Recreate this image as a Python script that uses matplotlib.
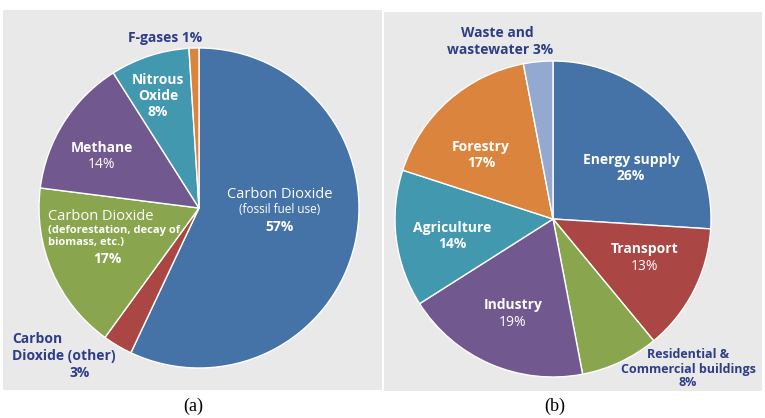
#!/usr/bin/env python3
"""Two pie charts: greenhouse gas emissions by gas (a) and by sector (b)."""

import matplotlib
matplotlib.use("Agg")
import matplotlib.pyplot as plt
from matplotlib.patches import Rectangle

W, H = 765, 418

# (a) emissions by gas, clockwise from 12 o'clock
gas_names = ["CO2 fossil", "CO2 other", "CO2 deforestation", "Methane", "Nitrous Oxide", "F-gases"]
gas_pct = [57, 3, 17, 14, 8, 1]
gas_colors = ["#4572A7", "#AA4643", "#89A54E", "#71588F", "#4198AF", "#DB843D"]

# (b) emissions by sector, clockwise from 12 o'clock
sector_names = ["Energy supply", "Transport", "Residential & Commercial buildings",
                "Industry", "Agriculture", "Forestry", "Waste and wastewater"]
sector_pct = [26, 13, 8, 19, 14, 17, 3]
sector_colors = ["#4572A7", "#AA4643", "#89A54E", "#71588F", "#4198AF", "#DB843D", "#93A9CF"]

PANEL_BG = "#e9e9e9"
DARK_BLUE = "#2E3C8A"
FONT = "Open Sans"


def fx(px):
    return px / W


def fy(py):
    return 1 - py / H


def draw_pie(fig, cx, cy, r, values, colors):
    # square axes in pixel space around the pie centre
    ax = fig.add_axes([fx(cx - r), fy(cy + r), 2 * r / W, 2 * r / H])
    ax.pie(values, colors=colors, startangle=90, counterclock=False, radius=1,
           wedgeprops=dict(edgecolor="white", linewidth=1))
    ax.set_xlim(-1, 1)
    ax.set_ylim(-1, 1)
    ax.axis("off")
    return ax


def label(fig, x, y, s, size=10, color="white", weight="bold", ha="center"):
    fig.text(fx(x), fy(y), s, ha=ha, va="center", fontsize=size,
             color=color, fontweight=weight, family=FONT, zorder=5)


fig = plt.figure(figsize=(W / 100, H / 100), dpi=100)

# grey panels on a background axes so they sit under the pies
bg = fig.add_axes([0, 0, 1, 1], zorder=-1)
bg.set_xlim(0, W)
bg.set_ylim(H, 0)
bg.axis("off")
bg.add_patch(Rectangle((3, 10), 379, 380, color=PANEL_BG, lw=0))
bg.add_patch(Rectangle((384, 12), 378, 379, color=PANEL_BG, lw=0))

# ---- (a) ----
draw_pie(fig, 199, 208, 160, gas_pct, gas_colors)

label(fig, 280, 195, "Carbon Dioxide", weight="normal", size=10.5)
label(fig, 280, 210, "(fossil fuel use)", weight="normal", size=8.5)
label(fig, 280, 227, "57%")
label(fig, 48, 216, "Carbon Dioxide", weight="normal", size=10.5, ha="left")
label(fig, 48, 230, "(deforestation, decay of", size=8, ha="left")
label(fig, 48, 242, "biomass, etc.)", size=8, ha="left")
label(fig, 107, 259, "17%")
label(fig, 102, 148, "Methane")
label(fig, 102, 164, "14%", weight="normal")
label(fig, 158, 80, "Nitrous")
label(fig, 158, 96, "Oxide")
label(fig, 158, 112, "8%")
label(fig, 165, 38, "F-gases 1%", color=DARK_BLUE)
label(fig, 12, 339, "Carbon", color=DARK_BLUE, ha="left")
label(fig, 12, 356, "Dioxide (other)", color=DARK_BLUE, ha="left")
label(fig, 80, 373, "3%", color=DARK_BLUE)

# ---- (b) ----
draw_pie(fig, 553, 219, 158, sector_pct, sector_colors)

label(fig, 631, 160, "Energy supply")
label(fig, 631, 176, "26%")
label(fig, 645, 249, "Transport")
label(fig, 645, 266, "13%", weight="normal")
label(fig, 513, 305, "Industry")
label(fig, 513, 322, "19%", weight="normal")
label(fig, 452, 228, "Agriculture")
label(fig, 452, 244, "14%")
label(fig, 481, 147, "Forestry")
label(fig, 481, 163, "17%")
label(fig, 497, 33, "Waste and", color=DARK_BLUE)
label(fig, 500, 50, "wastewater 3%", color=DARK_BLUE)
label(fig, 688, 355, "Residential &", color=DARK_BLUE, size=9)
label(fig, 688, 370, "Commercial buildings", color=DARK_BLUE, size=9)
label(fig, 688, 383, "8%", color=DARK_BLUE, size=9)

# captions
fig.text(fx(193), fy(406), "(a)", ha="center", va="center", fontsize=13,
         family="Liberation Serif")
fig.text(fx(555), fy(406), "(b)", ha="center", va="center", fontsize=13,
         family="Liberation Serif")

fig.savefig("out.png", dpi=100)
